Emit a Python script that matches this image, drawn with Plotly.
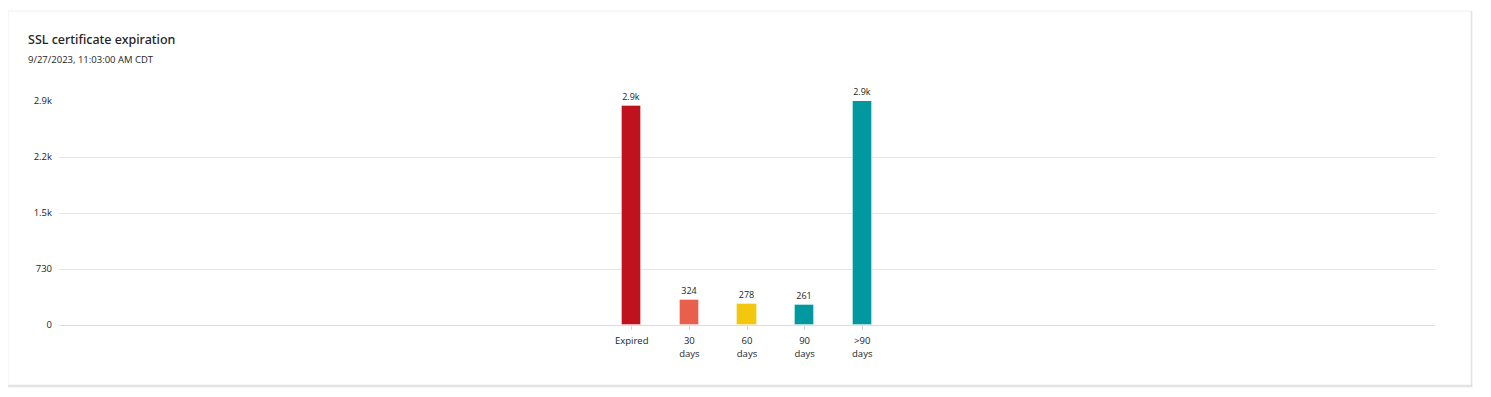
import plotly.graph_objects as go

categories = ["Expired", "30<br>days", "60<br>days", "90<br>days", ">90<br>days"]
values = [2855, 324, 278, 261, 2915]
value_labels = ["2.9k", "324", "278", "261", "2.9k"]
bar_colors = ["#C0111F", "#E8604C", "#F2C80F", "#01999F", "#01999F"]
tick_values = [0, 730, 1460, 2190, 2920]
tick_labels = ["0", "730", "1.5k", "2.2k", "2.9k"]

FONT = "Segoe UI, Open Sans, Noto Sans, sans-serif"
TITLE_FONT = "Segoe UI Semibold, Noto Sans, Open Sans, sans-serif"

# page body has an 8px margin; work in page coordinates and subtract it
OFF = 8
W, H = 1491 - OFF, 397 - OFF
pl, pr, pt, pb = 59 - OFF, 1491 - 1435, 101 - OFF, 397 - 325
pw, ph = W - pl - pr, H - pt - pb

fig = go.Figure(
    go.Bar(
        x=categories,
        y=values,
        text=value_labels,
        textposition="outside",
        textfont=dict(size=9, color="#252423", family=FONT),
        cliponaxis=False,
        marker=dict(color=bar_colors, line=dict(color="rgba(255,255,255,0.35)", width=1)),
        width=0.33,
        hoverinfo="skip",
    )
)

fig.update_layout(
    width=W, height=H,
    margin=dict(l=pl, r=pr, t=pt, b=pb),
    paper_bgcolor="white", plot_bgcolor="rgba(0,0,0,0)",
    showlegend=False,
    bargap=0,
    font=dict(family=FONT, color="#252423"),
    xaxis=dict(
        type="category",
        range=[-9.94, 13.94],
        showgrid=False, zeroline=False, showline=False,
        ticks="outside", ticklen=4, tickcolor="#d9d9d9", tickwidth=1,
        ticklabelstandoff=3,
        tickfont=dict(size=9.5, color="#252423", family=FONT),
        fixedrange=True,
    ),
    yaxis=dict(
        range=[0, 2920],
        tickvals=tick_values, ticktext=tick_labels,
        showgrid=True, gridcolor="#e4e4e4", gridwidth=1,
        zeroline=True, zerolinecolor="#dcdcdc", zerolinewidth=1,
        showline=False, ticks="", ticklabelstandoff=6,
        tickfont=dict(size=9.5, color="#252423", family=FONT),
        fixedrange=True,
    ),
)


def fx(x):
    return (x - OFF - pl) / pw


def fy(y):
    return (H - pb - (y - OFF)) / ph


card = []
# soft shadow, mostly below/right
for (dx0, dx1, dy0, dy1, a) in [(1, 2, 0, 3, 0.04), (0, 1, 0, 2, 0.06), (0, 1, 0, 1, 0.08)]:
    card.append(dict(type="rect", xref="paper", yref="paper", layer="below",
                     x0=fx(8 - dx0), x1=fx(1471 + dx1), y0=fy(385 + dy1), y1=fy(11 - dy0),
                     line=dict(width=0), fillcolor=f"rgba(0,0,0,{a})"))
card.append(dict(type="rect", xref="paper", yref="paper", layer="below",
                 x0=fx(8), x1=fx(1471), y0=fy(385), y1=fy(11),
                 line=dict(color="#f0f0f0", width=1), fillcolor="white"))
fig.update_layout(shapes=card)

fig.add_annotation(xref="paper", yref="paper", x=fx(26), y=fy(40), xanchor="left", yanchor="middle",
                   text="SSL certificate expiration", showarrow=False,
                   font=dict(size=12.5, color="#252423", family=TITLE_FONT, weight=500))
fig.add_annotation(xref="paper", yref="paper", x=fx(26), y=fy(59), xanchor="left", yanchor="middle",
                   text="9/27/2023, 11:03:00 AM CDT", showarrow=False,
                   font=dict(size=9.5, color="#252423", family=FONT))

fig.write_html("out.html")
